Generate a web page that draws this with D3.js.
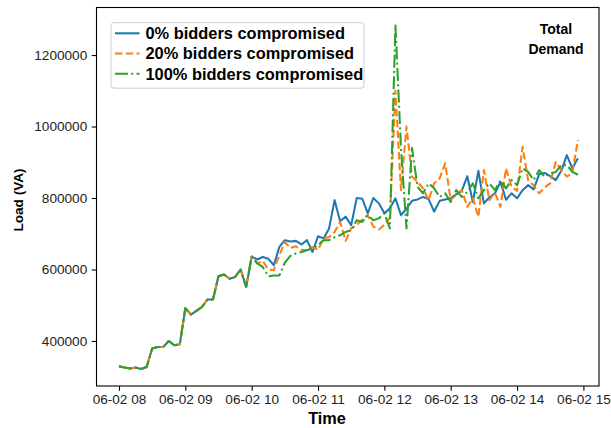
<!DOCTYPE html>
<html><head><meta charset="utf-8">
<script src="https://cdn.jsdelivr.net/npm/d3@7"></script>
<style>
html,body{margin:0;padding:0;background:#fff;}
svg{display:block;font-family:"Liberation Sans",Arial,sans-serif;}
</style></head>
<body><svg id="chart" width="611" height="428"></svg>
<script>
// ---- data ----
const startTime = "2016-06-02T08:00:00Z";
const stepMinutes = 5;
const seriesNames = ["0% bidders compromised","20% bidders compromised","100% bidders compromised"];
const seriesColors = ["#1f77b4","#ff7f0e","#2ca02c"];
const common = [329000,325500,323000,325500,321600,327000,378700,383000,383000,400000,388000,390700,
  492000,474000,484000,495000,516000,516000,581000,586000,574000,579000,600000,551000,636000];
const blueTail = [628000,635000,630000,612000,663000,682000,678000,680000,670000,682000,649000,693000,
  687000,715000,794000,735000,748000,724000,800000,798000,757000,800000,785000,757000,771000,799000,
  752000,770000,792000,796000,803000,797000,762000,792000,796000,799000,810000,820000,861000,789000,
  876000,785000,802000,813000,845000,795000,813000,799000,822000,836000,824000,867000,870000,861000,
  850000,876000,920000,883000,911000];
const orangeTail = [617000,624000,600000,598000,640000,677000,660000,665000,655000,654000,663000,655000,
  687000,691000,705000,733000,680000,715000,724000,740000,752000,720000,712000,725000,745000,1100000,
  822000,1000000,860000,845000,827000,794000,841000,855000,897000,794000,810000,822000,775000,800000,
  747000,878000,794000,815000,775000,883000,831000,820000,943000,850000,835000,813000,830000,841000,
  901000,878000,860000,869000,962000];
const greenTail = [617000,607000,581000,583000,583000,619000,638000,645000,649000,654000,659000,668000,
  682000,682000,690000,696000,705000,710000,738000,733000,752000,738000,743000,757000,715000,1285000,
  940000,715000,940000,831000,813000,841000,827000,803000,813000,789000,822000,803000,817000,841000,
  799000,822000,841000,822000,850000,827000,850000,836000,883000,873000,850000,878000,859000,869000,
  873000,892000,892000,873000,865000];
const yTicks = [400000,600000,800000,1000000,1200000];
const xTickLabels = ["06-02 08","06-02 09","06-02 10","06-02 11","06-02 12","06-02 13","06-02 14","06-02 15"];

// ---- layout ----
const svg = d3.select("#chart");
const L = 96.5, R = 599, T = 7.5, B = 386;
const t0 = new Date(startTime);
const seriesValues = [common.concat(blueTail), common.concat(orangeTail), common.concat(greenTail)];
const times = seriesValues[0].map((_, i) => new Date(t0.getTime() + i * stepMinutes * 60000));
const hr = 3600000;
const x = d3.scaleUtc()
  .domain([new Date(t0.getTime() - 0.339 * hr), new Date(t0.getTime() + 7.235 * hr)])
  .range([L, R]);
const y = d3.scaleLinear().domain([274000, 1333000]).range([B, T]);

const xTickDates = xTickLabels.map((s, i) => new Date(t0.getTime() + i * hr));
const fmt = d3.utcFormat("%m-%d %H");

// lines
const line = d3.line().x((d, i) => x(times[i])).y(d => y(d));
const dashes = [null, "7.5,3.3", "13,3.3,2,3.3"];
seriesValues.forEach((vals, k) => {
  svg.append("path").attr("d", line(vals)).attr("fill", "none")
    .attr("stroke", seriesColors[k]).attr("stroke-width", 2.05)
    .attr("stroke-dasharray", dashes[k]).attr("stroke-linejoin", "round");
});

// axes
const xAxis = d3.axisBottom(x).tickValues(xTickDates).tickFormat(fmt).tickSize(4.8).tickPadding(3.5);
const gx = svg.append("g").attr("transform", `translate(0,${B})`).call(xAxis);
const yAxis = d3.axisLeft(y).tickValues(yTicks).tickFormat(d3.format("d")).tickSize(4.8).tickPadding(4.5);
const gy = svg.append("g").attr("transform", `translate(${L},0)`).call(yAxis);
[gx, gy].forEach(g => {
  g.select(".domain").remove();
  g.selectAll(".tick line").attr("stroke", "#000").attr("stroke-width", 1.1);
  g.selectAll(".tick text").attr("fill", "#222").style("font-size", "13.6px")
    .style("font-family", '"Liberation Sans",Arial,sans-serif');
});
// frame
svg.append("rect").attr("x", L).attr("y", T).attr("width", R - L).attr("height", B - T)
  .attr("fill", "none").attr("stroke", "#000").attr("stroke-width", 1.1);

// axis labels
svg.append("text").attr("x", 327).attr("y", 423.5).attr("text-anchor", "middle")
  .style("font-size", "16.3px").style("font-weight", "bold").text("Time");
svg.append("text").attr("transform", "translate(23,200) rotate(-90)").attr("text-anchor", "middle")
  .style("font-size", "13.6px").style("font-weight", "bold").text("Load (VA)");

// annotation
svg.append("text").attr("x", 556).attr("y", 33.5).attr("text-anchor", "middle")
  .style("font-size", "14px").style("font-weight", "bold").text("Total");
svg.append("text").attr("x", 556).attr("y", 53.5).attr("text-anchor", "middle")
  .style("font-size", "14px").style("font-weight", "bold").text("Demand");

// legend
const lg = svg.append("g");
lg.append("rect").attr("x", 111).attr("y", 22.7).attr("width", 253).attr("height", 65.5)
  .attr("rx", 3).attr("fill", "#fff").attr("fill-opacity", 0.8).attr("stroke", "#cccccc").attr("stroke-width", 1);
seriesNames.forEach((name, k) => {
  const cy = 33.3 + k * 20.2;
  lg.append("line").attr("x1", 115).attr("x2", 139.5).attr("y1", cy).attr("y2", cy)
    .attr("stroke", seriesColors[k]).attr("stroke-width", 2.05).attr("stroke-dasharray", dashes[k]);
  lg.append("text").attr("x", 145.5).attr("y", cy + 5.9)
    .style("font-size", "16.4px").style("font-weight", "bold").text(name);
});
</script></body></html>
